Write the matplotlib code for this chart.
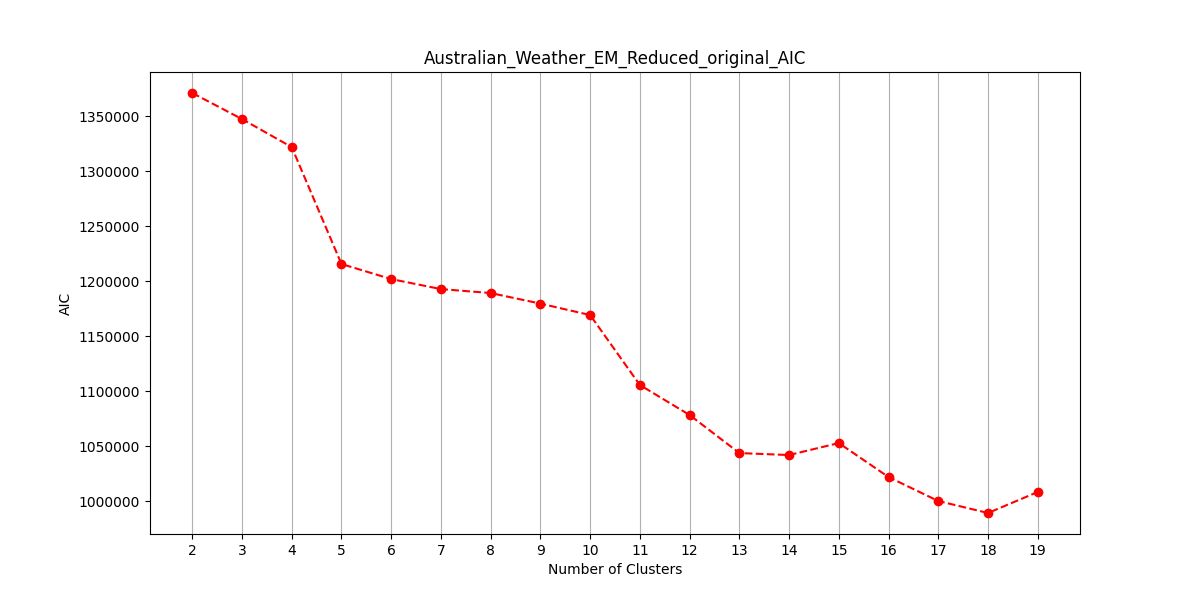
import matplotlib
matplotlib.use("Agg")
import matplotlib.pyplot as plt

clusters = list(range(2, 20))
aic = [1371000, 1347300, 1321800, 1215500, 1201800, 1192700, 1189100, 1179500, 1169100,
       1105500, 1078200, 1043600, 1041800, 1052700, 1021800, 1000000, 989100, 1008200]

fig, ax = plt.subplots(figsize=(12, 6), dpi=100)
ax.plot(clusters, aic, 'o--', color='red')
ax.set_xticks(clusters)
ax.grid(axis='x')
ax.set_title("Australian_Weather_EM_Reduced_original_AIC")
ax.set_xlabel("Number of Clusters")
ax.set_ylabel("AIC")
ax.ticklabel_format(axis='y', style='plain', useOffset=False)
fig.savefig("out.png")
